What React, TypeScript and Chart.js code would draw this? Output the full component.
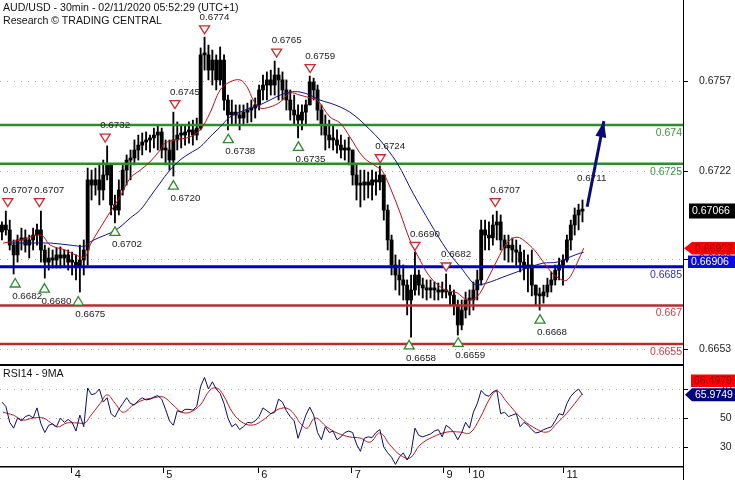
import React, { useEffect, useRef } from 'react';
import { Chart, registerables } from 'chart.js';

Chart.register(...registerables);

const FONT = "'Liberation Sans', Arial, sans-serif";

const title = 'AUD/USD - 30min - 02/11/2020 05:52:29 (UTC+1)';
const subtitle = 'Research \u00A9 TRADING CENTRAL';
const rsiTitle = 'RSI14 - 9MA';

// ---- price bars (hourly sampling of the picture) ----
const firstOpen = 0.66985;
const highs = [
  0.67024, 0.67066, 0.67031, 0.66954, 0.66973, 0.67000, 0.66993, 0.66973, 0.67000, 0.67016,
  0.67066, 0.66934, 0.66923, 0.66915, 0.66923, 0.66927, 0.66915, 0.66915, 0.66907, 0.66896,
  0.66934, 0.66954, 0.67233, 0.67225, 0.67233, 0.67245, 0.67264, 0.67319, 0.67245, 0.67128,
  0.67187, 0.67245, 0.67284, 0.67303, 0.67342, 0.67361, 0.67369, 0.67373, 0.67361, 0.67388,
  0.67400, 0.67388, 0.67342, 0.67342, 0.67450, 0.67412, 0.67400, 0.67400, 0.67412, 0.67419,
  0.67427, 0.67699, 0.67741, 0.67710, 0.67691, 0.67672, 0.67703, 0.67672, 0.67516, 0.67497,
  0.67478, 0.67478, 0.67478, 0.67485, 0.67497, 0.67505, 0.67555, 0.67594, 0.67606, 0.67613,
  0.67648, 0.67621, 0.67606, 0.67575, 0.67536, 0.67516, 0.67478, 0.67478, 0.67497, 0.67590,
  0.67582, 0.67555, 0.67478, 0.67439, 0.67419, 0.67400, 0.67381, 0.67361, 0.67342, 0.67353,
  0.67303, 0.67245, 0.67225, 0.67225, 0.67218, 0.67225, 0.67218, 0.67241, 0.67206, 0.67090,
  0.66973, 0.66896, 0.66876, 0.66857, 0.66799, 0.66818, 0.66907, 0.66837, 0.66806, 0.66799,
  0.66799, 0.66791, 0.66787, 0.66791, 0.66822, 0.66779, 0.66760, 0.66721, 0.66721, 0.66752,
  0.66760, 0.66791, 0.66837, 0.67031, 0.67031, 0.67024, 0.67051, 0.67066, 0.67051, 0.66973,
  0.66973, 0.66962, 0.66954, 0.66934, 0.66915, 0.66896, 0.66915, 0.66779, 0.66768, 0.66779,
  0.66806, 0.66830, 0.66857, 0.66884, 0.66896, 0.66973, 0.67031, 0.67078, 0.67093, 0.67109,
];
const lows = [
  0.66954, 0.66973, 0.66915, 0.66822, 0.66868, 0.66915, 0.66907, 0.66884, 0.66915, 0.66934,
  0.66868, 0.66806, 0.66837, 0.66845, 0.66845, 0.66845, 0.66853, 0.66837, 0.66818, 0.66799,
  0.66752, 0.66818, 0.66857, 0.67109, 0.67128, 0.67090, 0.67109, 0.67187, 0.67051, 0.67020,
  0.67051, 0.67128, 0.67167, 0.67187, 0.67245, 0.67264, 0.67284, 0.67303, 0.67295, 0.67311,
  0.67303, 0.67272, 0.67245, 0.67225, 0.67202, 0.67303, 0.67311, 0.67322, 0.67330, 0.67322,
  0.67342, 0.67381, 0.67613, 0.67575, 0.67555, 0.67536, 0.67555, 0.67458, 0.67381, 0.67400,
  0.67400, 0.67381, 0.67400, 0.67408, 0.67412, 0.67427, 0.67458, 0.67497, 0.67497, 0.67516,
  0.67516, 0.67497, 0.67497, 0.67458, 0.67419, 0.67400, 0.67350, 0.67381, 0.67400, 0.67478,
  0.67497, 0.67419, 0.67361, 0.67303, 0.67311, 0.67303, 0.67291, 0.67272, 0.67264, 0.67245,
  0.67167, 0.67109, 0.67082, 0.67109, 0.67117, 0.67109, 0.67128, 0.67148, 0.67031, 0.66915,
  0.66818, 0.66760, 0.66740, 0.66721, 0.66663, 0.66577, 0.66740, 0.66740, 0.66729, 0.66721,
  0.66729, 0.66721, 0.66721, 0.66729, 0.66729, 0.66702, 0.66663, 0.66585, 0.66605, 0.66651,
  0.66663, 0.66682, 0.66721, 0.66779, 0.66915, 0.66915, 0.66934, 0.66954, 0.66915, 0.66876,
  0.66868, 0.66868, 0.66857, 0.66830, 0.66799, 0.66752, 0.66737, 0.66702, 0.66682, 0.66709,
  0.66733, 0.66752, 0.66779, 0.66799, 0.66779, 0.66868, 0.66915, 0.66973, 0.66993, 0.67024,
];
const closes = [
  0.67012, 0.66993, 0.66934, 0.66896, 0.66954, 0.66962, 0.66934, 0.66954, 0.66973, 0.66993,
  0.66915, 0.66868, 0.66884, 0.66876, 0.66896, 0.66884, 0.66896, 0.66868, 0.66868, 0.66853,
  0.66876, 0.66915, 0.67187, 0.67167, 0.67187, 0.67148, 0.67206, 0.67245, 0.67090, 0.67070,
  0.67148, 0.67225, 0.67264, 0.67272, 0.67303, 0.67322, 0.67334, 0.67342, 0.67350, 0.67361,
  0.67373, 0.67303, 0.67303, 0.67264, 0.67342, 0.67361, 0.67361, 0.67373, 0.67381, 0.67361,
  0.67388, 0.67672, 0.67672, 0.67613, 0.67652, 0.67575, 0.67652, 0.67497, 0.67439, 0.67450,
  0.67439, 0.67427, 0.67450, 0.67458, 0.67466, 0.67478, 0.67536, 0.67555, 0.67575, 0.67555,
  0.67594, 0.67575, 0.67536, 0.67497, 0.67458, 0.67439, 0.67419, 0.67450, 0.67478, 0.67567,
  0.67536, 0.67458, 0.67400, 0.67361, 0.67342, 0.67342, 0.67322, 0.67303, 0.67311, 0.67303,
  0.67206, 0.67167, 0.67167, 0.67179, 0.67167, 0.67187, 0.67179, 0.67206, 0.67070, 0.66954,
  0.66857, 0.66818, 0.66799, 0.66779, 0.66721, 0.66760, 0.66818, 0.66779, 0.66768, 0.66760,
  0.66768, 0.66760, 0.66752, 0.66760, 0.66752, 0.66740, 0.66702, 0.66624, 0.66682, 0.66721,
  0.66721, 0.66760, 0.66799, 0.66993, 0.66973, 0.66962, 0.67012, 0.67024, 0.66954, 0.66923,
  0.66934, 0.66915, 0.66907, 0.66868, 0.66845, 0.66857, 0.66779, 0.66740, 0.66737, 0.66752,
  0.66779, 0.66799, 0.66837, 0.66857, 0.66876, 0.66954, 0.67012, 0.67051, 0.67070, 0.67066,
];

// ---- moving averages on price ----
const redMaX = [0.3, 5, 10, 12.4, 16.2, 18.8, 21.3, 22.6, 25.2, 27.8, 30.3, 32.9, 35.5, 38, 40.6, 41.9, 44.4, 48.3, 50.9, 53.4, 56, 58.5, 61.1, 62.9, 64.5, 66.2, 68.8, 71.4, 73.9, 76.5, 79.1, 80.9, 84.2, 86.8, 89.3, 92.7, 96.3, 97.5, 99.6, 102.2, 104.7, 107.3, 109.9, 113.7, 116.8, 119.4, 121.9, 124.5, 127.1, 129.6, 132.2, 134.8, 137.3, 139.9, 142.4, 145, 147.6, 149.3];
const redMaY = [0.66942, 0.66954, 0.66973, 0.66934, 0.66915, 0.66896, 0.66888, 0.66934, 0.67000, 0.67063, 0.67121, 0.67194, 0.67225, 0.67257, 0.67303, 0.67330, 0.67342, 0.67354, 0.67381, 0.67447, 0.67536, 0.67567, 0.67575, 0.67548, 0.67497, 0.67466, 0.67470, 0.67489, 0.67524, 0.67516, 0.67505, 0.67497, 0.67431, 0.67408, 0.67354, 0.67276, 0.67237, 0.67225, 0.67159, 0.67059, 0.66954, 0.66876, 0.66810, 0.66760, 0.66749, 0.66721, 0.66733, 0.66798, 0.66876, 0.66942, 0.66965, 0.66942, 0.66903, 0.66849, 0.66810, 0.66798, 0.66864, 0.66922];
const blueMaX = [2, 7.2, 12.4, 17.5, 21.3, 22.6, 25.2, 27.8, 30.3, 32.9, 35.5, 38, 40.6, 43.1, 45.7, 48.3, 50.9, 53.4, 56, 58.5, 61.1, 63.7, 66.2, 68.8, 71.4, 73.9, 76.5, 79.1, 81.6, 84.2, 86.8, 89.3, 91.9, 94.5, 97, 101.4, 105.5, 109.9, 114.2, 118.3, 120.9, 122.2, 125.3, 128.6, 132.2, 135.5, 138.9, 142.5, 145.8, 148.4, 149.3];
const blueMaY = [0.66942, 0.66942, 0.66942, 0.66934, 0.66930, 0.66946, 0.66965, 0.66981, 0.67004, 0.67039, 0.67070, 0.67121, 0.67175, 0.67225, 0.67264, 0.67291, 0.67315, 0.67354, 0.67392, 0.67431, 0.67450, 0.67466, 0.67478, 0.67497, 0.67516, 0.67528, 0.67528, 0.67516, 0.67497, 0.67485, 0.67470, 0.67450, 0.67419, 0.67381, 0.67342, 0.67253, 0.67136, 0.67020, 0.66915, 0.66837, 0.66787, 0.66779, 0.66791, 0.66810, 0.66830, 0.66849, 0.66864, 0.66868, 0.66888, 0.66903, 0.66906];

// ---- RSI panel ----
const rsi = [
  61, 58, 47, 43, 50, 48, 51, 52, 50, 57,
  46, 40, 45, 46, 44, 50, 47, 49, 47, 41,
  52, 44, 70.7, 66, 67, 70, 61, 64, 53, 50.7,
  56, 60, 64, 60, 59, 62, 64, 62.5, 63, 64.5,
  65.5, 63, 56, 48, 45, 55, 54, 56, 56, 55.5,
  58, 72, 78, 70, 75, 70, 67, 60, 50, 44,
  46, 42, 44, 47, 46.6, 48, 51, 57, 55, 53,
  54, 63, 61, 55, 51, 48, 36, 44, 52, 57.5,
  52, 40, 35, 44, 40, 41, 35, 37, 40, 41,
  40, 32, 27, 36, 37, 36.5, 40, 42, 30, 26,
  23, 18, 23, 26, 21, 26, 43, 38, 37, 38,
  39, 41, 42, 37, 45, 43, 40, 35, 40, 47,
  43, 54, 60, 69, 66, 65, 68, 69.3, 53, 54,
  51, 52, 53, 44, 47, 45, 42, 39.7, 40.3, 42,
  43, 43.8, 48, 53, 52, 60, 65, 68, 70, 66,
];
const rsiMaX = [0.3, 2.9, 5.4, 8.0, 10.6, 12.4, 14.2, 16.7, 19.3, 21.3, 22.6, 25.2, 27.0, 29.0, 31.1, 33.7, 36.2, 38.8, 41.4, 43.9, 46.2, 48.3, 50.9, 53.4, 55.2, 56.8, 59.3, 61.9, 64.5, 67.0, 69.6, 72.2, 74.0, 75.7, 76.5, 78.3, 80.4, 83.4, 86.0, 89.3, 91.9, 94.5, 97.0, 99.6, 102.2, 104.7, 107.3, 110.6, 114.2, 117.6, 120.1, 122.7, 125.3, 127.1, 129.6, 133.0, 136.3, 139.9, 142.5, 145.0, 148.9];
const rsiMaY = [54, 52, 48.6, 50, 50, 47, 43.8, 46.6, 46.6, 46.6, 51, 60, 66, 60.3, 54, 59, 62.4, 63.8, 64.5, 59, 54, 54, 59, 69.3, 70.7, 65.9, 53.4, 46.6, 45.2, 48.6, 54, 57, 55.5, 50, 46.6, 43, 50, 43.8, 39.7, 36.9, 36.2, 33.4, 39.7, 31.4, 24.5, 22.4, 31.4, 36.9, 40.3, 40.3, 39.7, 50, 63.8, 68.6, 61, 50.7, 43.8, 40.3, 46.6, 53.4, 66.5];

// ---- axes ----
const dayTickIdx = [17.9, 41.4, 65.8, 89.8, 113.3, 120.0, 144.1];
const dayTickLabels = ['4', '5', '6', '7', '9', '10', '11'];
const priceTicks = [0.6653, 0.6688, 0.6722, 0.6757];
const rsiTicks = [30, 50, 70];
const X_MIN = -0.5;
const X_MAX = 174.8;
const PRICE_MIN = 0.66465;
const PRICE_MAX = 0.67885;
const RSI_MIN = 16.2;
const RSI_MAX = 85.9;

// ---- support / resistance levels ----
const levels = [0.674, 0.6725, 0.6685, 0.667, 0.6655];
const levelLabels = ['0.674', '0.6725', '0.6685', '0.667', '0.6655'];
const levelColors = ['#2e8b2e', '#2e8b2e', '#0000c4', '#b03030', '#b03030'];
const levelTextColors = ['#3f953f', '#3f953f', '#3434a8', '#cc4444', '#cc4444'];
const levelWidths = [2.5, 2.5, 3, 2.5, 2.5];

// ---- swing markers ----
const highMarkerIdx = [1.5, 9.6, 26.5, 44.4, 52.0, 70.5, 79.1, 97.1, 106.0, 114.0, 126.6];
const highMarkerVal = [0.6707, 0.6707, 0.6732, 0.6745, 0.6774, 0.6765, 0.6759, 0.6724, 0.669, 0.6682, 0.6707];
const lowMarkerIdx = [3.4, 10.9, 19.6, 29.0, 44.0, 58.1, 76.1, 104.5, 117.1, 138.1];
const lowMarkerVal = [0.6682, 0.668, 0.6675, 0.6702, 0.672, 0.6738, 0.6735, 0.6658, 0.6659, 0.6668];
const targetLabelIdx = 148.9;
const targetLabelVal = 0.6711;

// ---- projection arrow ----
const arrowIdx = [150.2, 154.5];
const arrowVal = [0.67083, 0.67415];

// ---- last values ----
const lastPrice = 0.67066;
const lastRedMa = 0.66922;
const lastBlueMa = 0.66906;
const lastRsi = 65.9749;
const lastRsiMa = 66.4979;

function drawValueBox(ctx: CanvasRenderingContext2D, text: string, yc: number, left: number, h: number, bg: string, fg: string, arrowTip: number | null) {
  const right = 735;
  ctx.save();
  ctx.fillStyle = bg;
  ctx.beginPath();
  if (arrowTip !== null) {
    ctx.moveTo(arrowTip, yc);
    ctx.lineTo(left, yc - h / 2);
    ctx.lineTo(right, yc - h / 2);
    ctx.lineTo(right, yc + h / 2);
    ctx.lineTo(left, yc + h / 2);
    ctx.closePath();
  } else {
    ctx.rect(left, yc - h / 2, right - left, h);
  }
  ctx.fill();
  ctx.fillStyle = fg;
  ctx.font = `10.5px ${FONT}`;
  ctx.textAlign = 'left';
  ctx.textBaseline = 'middle';
  ctx.fillText(text, left + 3, yc + 0.5);
  ctx.restore();
}

export default function App() {
  const mainRef = useRef<HTMLCanvasElement>(null);
  const rsiRef = useRef<HTMLCanvasElement>(null);

  useEffect(() => {
    Chart.defaults.font.family = FONT;
    const opens = closes.map((c, i) => (i === 0 ? firstOpen : closes[i - 1]));
    const wicks = highs.map((h, i) => ({ x: i, y: [lows[i], h] }));
    const bodies = closes.map((c, i) => ({ x: i, y: [opens[i], c] }));
    const redMa = redMaX.map((x, i) => ({ x, y: redMaY[i] }));
    const blueMa = blueMaX.map((x, i) => ({ x, y: blueMaY[i] }));
    const arrowLine = arrowIdx.map((x, i) => ({ x, y: arrowVal[i] }));
    const levelSets = levels.map((v, k) => ({
      type: 'line' as const,
      data: [{ x: X_MIN, y: v }, { x: X_MAX, y: v }],
      borderColor: levelColors[k],
      borderWidth: levelWidths[k],
      pointRadius: 0,
      fill: false,
    }));

    const mainDecor = {
      id: 'mainDecor',
      afterDatasetsDraw(chart: any) {
        const { ctx, chartArea: a } = chart;
        const xs = chart.scales.x;
        const ys = chart.scales.y;
        ctx.save();
        ctx.font = `10.5px ${FONT}`;
        ctx.textAlign = 'right';
        ctx.textBaseline = 'middle';
        levels.forEach((v, k) => {
          ctx.fillStyle = levelTextColors[k];
          ctx.fillText(levelLabels[k], a.right - 1, ys.getPixelForValue(v) + 8);
        });
        ctx.lineWidth = 1.3;
        ctx.textAlign = 'left';
        highMarkerIdx.forEach((idx, k) => {
          const px = xs.getPixelForValue(idx);
          const py = ys.getPixelForValue(highMarkerVal[k]);
          ctx.beginPath();
          ctx.moveTo(px - 5, py - 11.5);
          ctx.lineTo(px + 5, py - 11.5);
          ctx.lineTo(px, py - 3.5);
          ctx.closePath();
          ctx.fillStyle = '#ffffff';
          ctx.fill();
          ctx.strokeStyle = '#d02828';
          ctx.stroke();
          ctx.fillStyle = '#222222';
          ctx.font = `9.8px ${FONT}`;
          ctx.fillText(highMarkerVal[k].toFixed(4), px - 5, py - 20);
        });
        lowMarkerIdx.forEach((idx, k) => {
          const px = xs.getPixelForValue(idx);
          const py = ys.getPixelForValue(lowMarkerVal[k]);
          ctx.beginPath();
          ctx.moveTo(px, py + 4);
          ctx.lineTo(px + 5, py + 12.5);
          ctx.lineTo(px - 5, py + 12.5);
          ctx.closePath();
          ctx.fillStyle = '#ffffff';
          ctx.fill();
          ctx.strokeStyle = '#2e8a2e';
          ctx.stroke();
          ctx.fillStyle = '#222222';
          ctx.font = `9.8px ${FONT}`;
          ctx.fillText(lowMarkerVal[k].toFixed(4), px - 3, py + 21.5);
        });
        ctx.fillStyle = '#222222';
        ctx.fillText(targetLabelVal.toFixed(4), xs.getPixelForValue(targetLabelIdx) - 5, ys.getPixelForValue(targetLabelVal) - 21);
        const x0 = xs.getPixelForValue(arrowIdx[0]);
        const y0 = ys.getPixelForValue(arrowVal[0]);
        const x1 = xs.getPixelForValue(arrowIdx[1]);
        const y1 = ys.getPixelForValue(arrowVal[1]);
        const len = Math.hypot(x1 - x0, y1 - y0);
        const dx = (x1 - x0) / len;
        const dy = (y1 - y0) / len;
        const bx = x1 - dx * 16;
        const by = y1 - dy * 16;
        ctx.fillStyle = '#0a0a78';
        ctx.beginPath();
        ctx.moveTo(x1, y1);
        ctx.lineTo(bx - dy * 5.5, by + dx * 5.5);
        ctx.lineTo(bx + dy * 5.5, by - dx * 5.5);
        ctx.closePath();
        ctx.fill();
        ctx.strokeStyle = '#000000';
        ctx.lineWidth = 2;
        ctx.beginPath();
        ctx.moveTo(a.left, a.bottom - 1);
        ctx.lineTo(a.right, a.bottom - 1);
        ctx.stroke();
        ctx.restore();
      },
      afterDraw(chart: any) {
        const { ctx } = chart;
        const ys = chart.scales.y;
        drawValueBox(ctx, lastPrice.toFixed(5), ys.getPixelForValue(lastPrice), 689, 15, '#000000', '#ffffff', null);
        const redY = ys.getPixelForValue(lastRedMa);
        drawValueBox(ctx, lastRedMa.toFixed(5), redY, 692, 12.5, '#ff0000', '#8e0000', 684);
        const blueY = Math.max(ys.getPixelForValue(lastBlueMa), redY + 13.5);
        drawValueBox(ctx, lastBlueMa.toFixed(5), blueY, 688, 12.5, '#0a0ae6', '#ffffff', null);
      },
    };

    const main = new Chart(mainRef.current as HTMLCanvasElement, {
      type: 'bar',
      data: {
        datasets: [
          { type: 'line', data: arrowLine, borderColor: '#0a0a78', borderWidth: 3, pointRadius: 0, fill: false } as any,
          { type: 'line', data: redMa, borderColor: '#c01010', borderWidth: 1, pointRadius: 0, tension: 0.35, fill: false } as any,
          { type: 'line', data: blueMa, borderColor: '#12128c', borderWidth: 1, pointRadius: 0, tension: 0.35, fill: false } as any,
          ...(levelSets as any[]),
          { type: 'bar', data: bodies, backgroundColor: '#000000', barThickness: 3.2, grouped: false, minBarLength: 2 } as any,
          { type: 'bar', data: wicks, backgroundColor: '#000000', barThickness: 1.2, grouped: false } as any,
        ],
      },
      options: {
        responsive: false,
        animation: false,
        events: [],
        layout: { padding: 0 },
        plugins: { legend: { display: false }, tooltip: { enabled: false }, title: { display: false } },
        scales: {
          x: { type: 'linear', min: X_MIN, max: X_MAX, display: false, offset: false, grid: { offset: false } },
          y: {
            type: 'linear',
            position: 'right',
            min: PRICE_MIN,
            max: PRICE_MAX,
            beginAtZero: false,
            afterBuildTicks: (s: any) => { s.ticks = priceTicks.map((v) => ({ value: v })); },
            afterFit: (s: any) => { s.width = 52; s.paddingTop = 0; s.paddingBottom = 0; },
            ticks: {
              callback: (v: any) => Number(v).toFixed(4),
              padding: 11,
              color: '#222222',
              font: { family: FONT, size: 10.5 },
              autoSkip: false,
            },
            grid: { color: '#a8a8a8', lineWidth: 1, tickLength: 5, tickColor: '#000000', tickBorderDash: [] },
            border: { display: true, color: '#000000', width: 1, dash: [1, 6] },
          },
        },
      } as any,
      plugins: [mainDecor],
    });

    const rsiDecor = {
      id: 'rsiDecor',
      afterDraw(chart: any) {
        const { ctx, chartArea: a } = chart;
        const ys = chart.scales.y;
        ctx.save();
        ctx.strokeStyle = '#000000';
        ctx.lineWidth = 1;
        ctx.beginPath();
        ctx.moveTo(a.right + 0.5, 0);
        ctx.lineTo(a.right + 0.5, chart.height);
        ctx.stroke();
        ctx.restore();
        const navyY = ys.getPixelForValue(lastRsi);
        drawValueBox(ctx, lastRsi.toFixed(4), navyY, 692, 13, '#000080', '#ffffff', 685);
        drawValueBox(ctx, lastRsiMa.toFixed(4), navyY - 14, 691, 12.5, '#ff0000', '#8e0000', null);
      },
    };

    const rsiChart = new Chart(rsiRef.current as HTMLCanvasElement, {
      type: 'line',
      data: {
        datasets: [
          { data: rsi.map((v, i) => ({ x: i, y: v })), borderColor: '#0c0c66', borderWidth: 1, pointRadius: 0, tension: 0, fill: false },
          { data: rsiMaX.map((x, i) => ({ x, y: rsiMaY[i] })), borderColor: '#c01818', borderWidth: 1, pointRadius: 0, tension: 0.4, fill: false },
        ],
      },
      options: {
        responsive: false,
        animation: false,
        events: [],
        layout: { padding: 0 },
        plugins: { legend: { display: false }, tooltip: { enabled: false } },
        scales: {
          x: {
            type: 'linear',
            min: X_MIN,
            max: X_MAX,
            offset: false,
            position: 'bottom',
            afterBuildTicks: (s: any) => { s.ticks = dayTickIdx.map((v) => ({ value: v })); },
            afterFit: (s: any) => { s.height = 13; s.paddingLeft = 0; s.paddingRight = 0; },
            ticks: {
              callback: (_v: any, idx: number) => dayTickLabels[idx],
              align: 'start',
              labelOffset: 3,
              padding: -5,
              maxRotation: 0,
              autoSkip: false,
              color: '#111111',
              font: { family: FONT, size: 11 },
            },
            grid: { drawOnChartArea: false, drawTicks: true, tickLength: 6, tickColor: '#000000', offset: false },
            border: { display: true, color: '#000000', width: 1.5 },
          },
          y: {
            type: 'linear',
            position: 'right',
            min: RSI_MIN,
            max: RSI_MAX,
            afterBuildTicks: (s: any) => { s.ticks = rsiTicks.map((v) => ({ value: v })); },
            afterFit: (s: any) => { s.width = 52; s.paddingTop = 0; s.paddingBottom = 0; },
            ticks: {
              callback: (v: any) => String(v),
              padding: 32,
              color: '#222222',
              font: { family: FONT, size: 10.5 },
              autoSkip: false,
            },
            grid: { color: '#a8a8a8', lineWidth: 1, tickLength: 5, tickColor: '#000000', tickBorderDash: [] },
            border: { display: true, color: '#000000', width: 1, dash: [1, 6] },
          },
        },
      } as any,
      plugins: [rsiDecor],
    });

    return () => {
      main.destroy();
      rsiChart.destroy();
    };
  }, []);

  return (
    <div style={{ position: 'fixed', left: 0, top: 0, width: 735, height: 480, background: '#ffffff', overflow: 'hidden' }}>
      <canvas ref={mainRef} width={735} height={366} style={{ position: 'absolute', left: 0, top: 0, width: 735, height: 366 }} />
      <canvas ref={rsiRef} width={735} height={114} style={{ position: 'absolute', left: 0, top: 366, width: 735, height: 114 }} />
      <div style={{ position: 'absolute', left: 3, top: 1, fontFamily: FONT, fontSize: '10.6px', lineHeight: '13px', color: '#111111', whiteSpace: 'pre' }}>
        {title}
        <br />
        {subtitle}
      </div>
      <div style={{ position: 'absolute', left: 3, top: 367, fontFamily: FONT, fontSize: '10.6px', lineHeight: '13px', color: '#111111', whiteSpace: 'pre' }}>
        {rsiTitle}
      </div>
    </div>
  );
}
